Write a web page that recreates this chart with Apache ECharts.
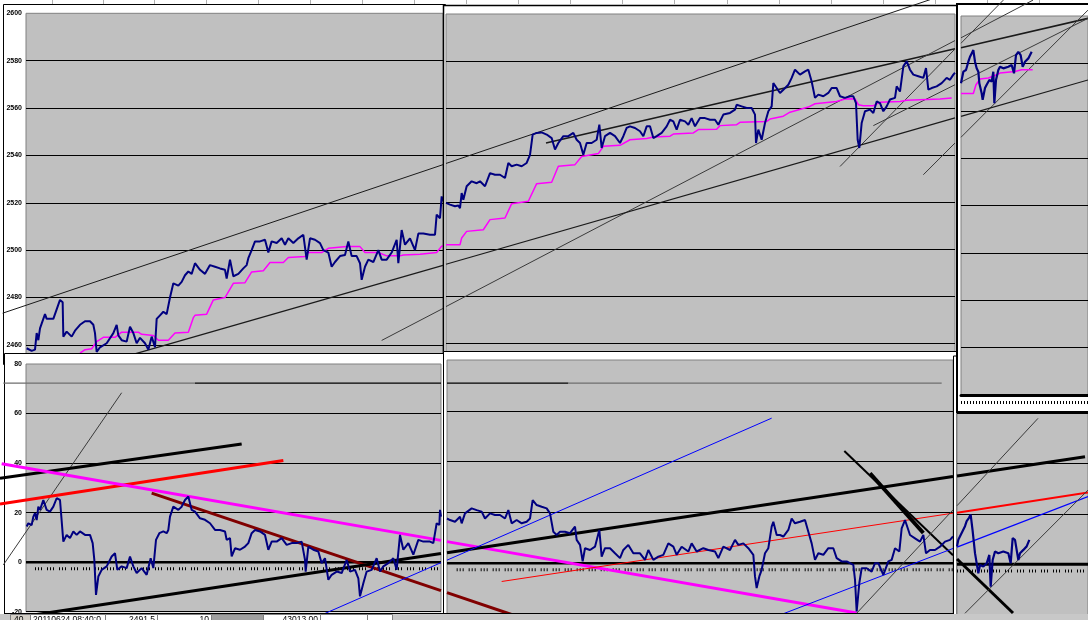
<!DOCTYPE html>
<html><head><meta charset="utf-8">
<script src="https://cdn.jsdelivr.net/npm/echarts@6/dist/echarts.min.js"></script>
<style>html,body{margin:0;padding:0;background:#fff;overflow:hidden}#c{width:1088px;height:620px;}</style>
</head><body><div id="c"></div>
<script>
// ---------------- DATA ----------------
const priceRange = [2440, 2600];
const oscRange = [-20, 80];
const tickStep = 20;

// top-left window: price and stepped average (x = bar index)
const tlPrice = [[80,2458.6],[85,2458],[95,2457.5],[105,2458],[110,2465],[115,2462],[120,2467],[125,2469],[135,2473],[140,2471],[145,2471],[160,2471],[170,2475],[175,2477],[180,2479],[185,2478.5],[188,2478],[190,2463.5],[200,2465.6],[215,2463.5],[225,2466],[240,2468.5],[255,2470],[270,2470],[280,2468.5],[285,2465],[290,2457],[300,2459],[320,2460.7],[340,2465],[350,2468.5],[355,2464],[365,2462],[380,2461.4],[390,2467.7],[400,2465],[410,2460.7],[420,2463],[435,2460.7],[445,2458],[455,2463.5],[465,2459],[470,2471],[480,2472.5],[490,2474],[500,2473],[505,2473],[510,2480],[520,2486],[535,2485],[545,2486.6],[555,2489.4],[565,2491],[575,2490],[585,2494.5],[600,2491.7],[615,2490],[630,2493.7],[645,2493],[660,2492.3],[675,2491.7],[680,2488],[690,2496],[700,2489],[715,2490],[730,2492.3],[740,2493.7],[745,2496.6],[755,2500],[765,2503.7],[780,2503.7],[795,2504.4],[805,2499],[815,2503.7],[830,2503],[845,2505],[855,2502.3],[865,2505],[880,2503],[895,2505],[910,2506.5],[920,2496],[930,2505],[945,2504.4],[960,2503],[970,2500],[985,2499],[995,2493],[1005,2495],[1020,2497.5],[1035,2498],[1045,2503.7],[1055,2497.5],[1070,2497.5],[1080,2494.5],[1085,2487.5],[1095,2493],[1105,2496],[1120,2495],[1135,2500],[1145,2496],[1160,2496],[1175,2499],[1190,2504.4],[1195,2494.5],[1205,2508.5],[1215,2502.3],[1230,2505],[1245,2500],[1255,2507],[1270,2507],[1290,2506.5],[1305,2506.5],[1310,2515],[1320,2513.5],[1325,2522.7],[1329,2520.6]];
const tlAvg = [[240,2456.5],[255,2458],[275,2458.4],[290,2461.4],[310,2463.2],[345,2463.2],[365,2465.4],[415,2465.4],[425,2464.5],[460,2464],[475,2462],[505,2462],[525,2465],[565,2465.4],[580,2471.5],[585,2472.5],[620,2473],[640,2479],[675,2480],[700,2486],[735,2486.3],[755,2490.8],[790,2491.3],[810,2494.8],[850,2494.8],[865,2496.9],[915,2497.3],[925,2499],[965,2499],[985,2500.8],[1040,2501.5],[1080,2501.5],[1095,2499],[1135,2499],[1160,2497.6],[1200,2497.6],[1210,2498],[1260,2498.3],[1310,2499],[1325,2501.7],[1329,2501.8]];

// top-middle window
const tmPrice = [[18,2519.6],[30,2518.9],[45,2518.2],[55,2518.5],[60,2517.4],[65,2523.8],[70,2521],[80,2526.7],[95,2528.8],[110,2528],[120,2528.8],[135,2526.7],[150,2532.3],[165,2531.6],[180,2531.6],[195,2530.2],[205,2536.6],[215,2535.2],[230,2535.9],[245,2535.2],[260,2536.6],[270,2540.1],[278,2548.7],[290,2549.4],[305,2549.6],[320,2548.7],[335,2547.2],[345,2542.3],[355,2545.1],[370,2548],[385,2548],[400,2549.4],[410,2546.5],[420,2545.1],[430,2540.1],[440,2545.1],[455,2545.1],[470,2546.5],[478,2552.9],[485,2543],[495,2548],[510,2549.4],[525,2548],[540,2545.1],[550,2548],[560,2551.5],[570,2552.2],[585,2551.5],[600,2550.1],[610,2548],[620,2552.2],[630,2552.2],[640,2547.2],[650,2548],[665,2549.4],[680,2552.2],[690,2555],[700,2554.3],[710,2550.8],[720,2555],[735,2554.3],[745,2552.9],[755,2555.7],[765,2552.2],[780,2555.7],[795,2555.7],[810,2555],[825,2555],[835,2552.9],[850,2557.2],[870,2557.9],[885,2559.3],[890,2561.4],[905,2560.7],[920,2560],[935,2560],[945,2557.2],[948,2545.1],[955,2550.8],[965,2546.5],[975,2553.6],[985,2558.6],[995,2560.7],[1000,2570.6],[1010,2568.5],[1020,2566.4],[1030,2567.8],[1045,2569.9],[1055,2572.8],[1065,2576.3],[1080,2574.2],[1095,2575.6],[1105,2576.3],[1115,2571.3],[1125,2564.3],[1135,2565.7],[1150,2565],[1165,2566.4],[1175,2568.5],[1190,2568.5],[1200,2565],[1215,2564.3],[1230,2565],[1240,2565],[1248,2562.1],[1253,2546.5],[1258,2543],[1265,2553.6],[1275,2558.6],[1290,2559.3],[1300,2557.9],[1310,2562.8],[1320,2562.1],[1330,2558.6],[1340,2560.7],[1350,2563.6],[1365,2564.3],[1370,2569.2],[1380,2567],[1390,2577.7],[1400,2579.9],[1410,2576.3],[1420,2574.2],[1435,2573.5],[1450,2572.8],[1458,2577],[1465,2567.8],[1475,2568.5],[1490,2569.2],[1505,2570.6],[1520,2572.8],[1530,2572],[1540,2574.2],[1545,2575]];
const tmAvg = [[18,2501.8],[60,2501.8],[65,2504.7],[80,2507.5],[130,2508.2],[150,2512.5],[195,2513.2],[215,2519.3],[265,2520.3],[290,2527.8],[335,2528.4],[355,2535.2],[405,2535.9],[425,2539.4],[475,2540.6],[490,2543.7],[540,2544.1],[570,2546.5],[620,2547],[640,2547.7],[690,2548],[700,2548.9],[760,2549.4],[775,2550.8],[830,2551],[840,2552.5],[890,2552.9],[900,2553.9],[980,2554.3],[990,2555.3],[1030,2556.5],[1050,2558.2],[1105,2560.4],[1125,2561.8],[1190,2562.8],[1215,2563.8],[1245,2563.9],[1255,2561.4],[1270,2561],[1300,2561],[1320,2562.4],[1380,2562.8],[1400,2563.3],[1500,2563.8],[1535,2564.3]];

// top-right window
const trPrice = [[33,2571.6],[40,2576.5],[48,2577.2],[55,2580.7],[60,2582.8],[65,2584.2],[70,2585.6],[75,2580.7],[80,2577.9],[85,2576.5],[88,2571.6],[95,2567.4],[98,2564.6],[105,2569.6],[110,2571],[118,2573],[125,2572.3],[130,2576.5],[133,2563.2],[138,2573],[145,2577.2],[150,2578.6],[160,2577.9],[175,2578.6],[185,2579.3],[192,2575.8],[198,2583.5],[205,2584.9],[212,2583.5],[218,2578.6],[225,2580.7],[235,2582.1],[245,2584.9]];
const trAvg = [[33,2567.3],[70,2567.3],[78,2571],[90,2573.4],[115,2573.8],[140,2575.2],[150,2575.9],[195,2576.6],[215,2577.3],[248,2577.3]];

// oscillator windows
const blOsc = [[80,14.4],[85,15.7],[95,15],[100,18.4],[105,19.8],[110,17],[115,22.4],[120,21.1],[130,25.1],[140,21.1],[150,20.4],[160,22.4],[170,25.8],[180,25.1],[185,24.5],[190,8.3],[200,11],[210,9.7],[220,12.4],[230,11],[240,12.4],[255,11],[270,11],[278,7.7],[283,0.9],[288,-13.2],[295,-5.8],[305,-3.1],[320,-1.7],[335,2.3],[345,3.6],[352,-3.1],[365,-1.7],[380,-2.4],[390,2.3],[400,-1.7],[410,-4.4],[425,-2.4],[440,-5.1],[452,1.6],[460,-2.4],[468,9],[478,11.7],[490,12.4],[500,11.7],[505,13],[510,18.4],[520,22.4],[535,21.1],[545,22.4],[555,25.1],[565,26.5],[575,21.1],[585,20.4],[600,17.7],[615,17.1],[630,15.7],[645,13],[660,13],[675,12.4],[680,9],[690,9.7],[695,2.3],[705,5.6],[720,5],[735,6.3],[745,7.7],[755,11.7],[765,13],[780,12.4],[795,11],[805,5],[815,8.3],[830,8.3],[845,9.7],[860,7],[875,7.7],[890,7.7],[905,8.3],[915,0.9],[917,-3.8],[925,6.3],[940,5],[955,4.3],[965,-0.4],[975,1.6],[985,-7.1],[995,-5.1],[1010,-3.8],[1025,-4.4],[1040,0.9],[1050,-3.8],[1065,-3.1],[1075,-6.5],[1080,-13.8],[1090,-8.5],[1100,-3.8],[1115,-3.1],[1130,1.6],[1140,-3.8],[1150,-1.7],[1165,-0.4],[1180,1.6],[1190,-3.1],[1200,11],[1210,5],[1225,7.7],[1240,3],[1255,9],[1270,8.3],[1290,8.3],[1300,7.7],[1310,15.7],[1318,15],[1320,21.1],[1323,18.4]];
const bmOsc = [[21,17.6],[30,17],[45,16.3],[60,18.3],[65,15.7],[75,19.6],[95,21.6],[110,20.9],[125,20.3],[135,17.6],[150,19.6],[165,19],[180,19],[195,17.6],[205,20.9],[215,15.7],[230,17],[245,15.7],[260,16.3],[270,17.6],[278,24.8],[290,22.9],[305,22.2],[320,21.6],[330,19.6],[340,12.4],[350,11.1],[360,12.4],[375,12.4],[390,11.8],[405,14.4],[410,9.2],[420,7.2],[428,0.7],[435,5.9],[450,5.2],[465,6.5],[478,13.1],[485,2.6],[495,5.9],[510,5.9],[525,3.9],[540,2],[550,5.2],[565,7.2],[580,3.9],[600,3.9],[615,1.3],[625,5.2],[640,1.3],[655,2.6],[670,3.3],[685,7.8],[700,6.5],[710,3.3],[725,6.5],[745,4.6],[755,7.8],[770,4.6],[790,5.9],[805,5.2],[825,4.6],[835,2],[850,6.5],[870,5.2],[885,9.2],[895,7.2],[910,7.8],[925,5.9],[940,3.3],[945,-5.2],[950,-9.8],[958,-5.2],[965,-2.6],[975,3.9],[985,5.9],[995,14.4],[1000,16.3],[1010,11.1],[1020,11.1],[1030,10.5],[1045,13.1],[1055,17.6],[1065,15.7],[1080,16.3],[1095,17],[1105,12.4],[1115,7.8],[1125,1.3],[1135,3.9],[1150,3.3],[1165,5.9],[1180,5.9],[1190,2],[1205,0.7],[1220,0.7],[1240,-0.7],[1245,-6.5],[1250,-19],[1258,-7.8],[1265,-2],[1280,-2],[1295,-3.3],[1305,0],[1315,0],[1330,-4.6],[1345,0.7],[1355,1.3],[1365,5.9],[1378,4.6],[1385,13.7],[1395,17],[1410,11.1],[1425,9.8],[1440,8.5],[1450,11.1],[1458,3.9],[1470,5.2],[1485,5.2],[1500,6.5],[1515,8.5],[1530,9.2],[1539,10.5]];
const brOsc = [[21,7.1],[25,9.7],[35,12.4],[45,15.1],[50,17.1],[57,18.4],[62,19.7],[68,13.1],[75,4.4],[80,4.4],[85,-3.6],[90,-0.3],[100,-0.9],[110,0.4],[118,3.7],[122,-8.9],[128,1.7],[135,5.1],[145,4.4],[160,5.1],[175,4.4],[182,0.4],[188,10.4],[195,9.7],[205,1.7],[210,4.4],[220,5.7],[230,7.1],[238,9.7]];

// trend lines (end points in each window's data space)
const tlLines = {A:[[8,2473.4],[1329,2536.1]], C:[[1145,2461.9],[1329,2475.4]], G:[[78,2443.0],[1329,2493.6]]};
const tmLines = {A:[[18,2536.4],[1470,2606.1]], B:[[318,2545.1],[1545,2585.2]], C:[[18,2475.5],[1545,2588.7]], D:[[1200,2535.1],[1545,2585.1]], E:[[1300,2552.5],[1545,2569.9]], F:[[1450,2531.6],[1545,2545.1]], G:[[18,2493.5],[1545,2555.8]]};
const trLines = {B:[[33,2586.6],[414,2599.0]], C:[[33,2590.8],[249,2606.7]], D:[[33,2588.5],[160,2606.7]], E:[[33,2572.1],[414,2599.0]], F:[[33,2548.8],[414,2602.5]], G:[[33,2557.6],[414,2573.0]]};
const blLines = {zero:[[78,0],[1323,0]], dots:[[105,-2.7],[1320,-2.7]], hGray:[[10,72.3],[585,72.3]], hBlack:[[585,72.3],[1323,72.3]], steep:[[10,-1.1],[365,68.4]], blackUp:[[0,33.9],[725,47.7]], redUp:[[0,23.5],[850,41.0]], magenta:[[5,39.7],[1323,8.8]], brown:[[455,27.9],[1323,-11.5]], blackLow:[[100,-21.3],[1323,3.5]], blue:[[965,-21.3],[1323,-0.2]]};
const bmLines = {zero:[[21,0],[1539,0]], dots:[[50,-2.6],[1539,-2.6]], hBlack:[[21,70.9],[385,70.9]], hGray:[[385,70.9],[1505,70.9]], magenta:[[21,8.5],[1250,-19.6]], brown:[[21,-11.6],[219,-20.4]], blackLow:[[21,4.1],[1539,34.1]], blue:[[21,1.2],[995,57.1]], red:[[185,-7.2],[1539,19.7]], blackDesc:[[1213,44.2],[1539,3.1]], blackDescThick:[[1290,35.4],[1450,11.9]], blue2:[[1020,-20.4],[1539,5.8]], gray1:[[1250,-19.7],[1539,21.0]]};
const brLines = {zero:[[21,0],[414,0]], dots:[[21,-2.7],[414,-2.7]], blackLow:[[21,35.0],[405,42.6]], red:[[21,20.4],[414,28.4]], blackDesc:[[21,2.1],[189,-19.3]], blue2:[[21,6.8],[414,26.8]], gray1:[[21,23.2],[264,57.8]], gray2:[[45,-19.4],[414,29.4]]};

const statusTexts = ['40', '20110624 08:40:0', '2491.5', '10', '43013.00'];

// ---------------- LAYOUT / STYLE ----------------
// 0 TL, 1 TM, 2 TR, 3 BL, 4 BM, 5 BR, 6 TL overlay (incl. left margin), 7 BL overlay
const panels = [
  {left:26,  top:13.3, width:417, height:379,   layer:1, x:[78,1329], y:priceRange, labels:true},
  {left:446, top:14,   width:509, height:376,   layer:2, x:[18,1545], y:priceRange, labels:false},
  {left:961, top:16,   width:127, height:379,   layer:6, x:[33,414],  y:priceRange, labels:false},
  {left:26,  top:364,  width:415, height:247.7, layer:3, x:[78,1323], y:oscRange,   labels:true},
  {left:447, top:360,  width:506, height:254,   layer:4, x:[21,1539], y:oscRange,   labels:false},
  {left:957, top:362.3,width:131, height:252.5, layer:5, x:[21,414],  y:oscRange,   labels:false},
  {left:0,   top:13.3, width:443, height:379,   layer:1, x:[0,1329],  y:priceRange, overlay:true},
  {left:0,   top:364,  width:441, height:247.7, layer:3, x:[0,1323],  y:oscRange,   overlay:true}
];

const grid = panels.map(p => ({
  left:p.left, top:p.top, width:p.width, height:p.height, containLabel:false, outerBoundsMode:'none',
  show:!p.overlay, backgroundColor:'#C0C0C0', borderColor:'#808080', borderWidth:1, z:p.layer*10+1
}));
const xAxis = panels.map((p,i) => ({
  gridIndex:i, type:'value', min:p.x[0], max:p.x[1], z:p.layer*10+2,
  show: i === 2,
  axisLine:{show:i===2, onZero:false, lineStyle:{color:'#000', width:3}},
  axisTick:{show:false}, axisLabel:{show:false}, splitLine:{show:false}
}));
xAxis.push({gridIndex:2, type:'value', min:33, max:414, interval:9, position:'bottom', offset:6, z:63,
  axisLine:{show:false}, axisTick:{show:true, length:3, lineStyle:{color:'#000', width:1}},
  axisLabel:{show:false}, splitLine:{show:false}});
const yAxis = panels.map((p,i) => ({
  gridIndex:i, type:'value', min:p.y[0], max:p.y[1], interval:tickStep, z:p.layer*10+2,
  show: !p.overlay,
  axisLine:{show:false}, axisTick:{show:false},
  axisLabel:{show:!!p.labels, fontSize:7, fontWeight:'bold', color:'#000', margin:4,
             fontFamily:'Liberation Sans', formatter: v => String(v)},
  splitLine:{show:!p.overlay, showMaxLine:false, lineStyle:{color:'#000', width:1}}
}));

function ln(gi, data, color, width, opt) {
  opt = opt || {};
  return {
    type:'line', xAxisIndex:gi, yAxisIndex:gi, data:data, symbol:'none', showSymbol:false,
    clip: opt.clip !== false, silent:true, animation:false,
    z: panels[gi].layer*10 + (opt.zo || 3),
    lineStyle:{color:color, width:width, type: opt.dash || 'solid', cap:'butt'}
  };
}
const NAVY = '#000080', MAG = '#FF00FF', TRD = '#1a1a1a', THIN = '#3a3a3a';
const DOTS = [1,2,1,2,1,5];
const NC = {clip:false};
const PW = 2;

const series = [
  // TL
  ln(6, tlLines.A, TRD, 1, NC), ln(0, tlLines.C, THIN, 1), ln(0, tlLines.G, TRD, 1.2),
  ln(0, tlAvg, MAG, 1.5, {zo:4}), ln(0, tlPrice, NAVY, PW, {zo:5}),
  // TM
  ln(1, tmLines.A, TRD, 1, NC), ln(1, tmLines.B, TRD, 1.6), ln(1, tmLines.C, THIN, 1),
  ln(1, tmLines.D, THIN, 1), ln(1, tmLines.E, THIN, 1), ln(1, tmLines.F, THIN, 1), ln(1, tmLines.G, TRD, 1.2),
  ln(1, tmAvg, MAG, 1.5, {zo:4}), ln(1, tmPrice, NAVY, PW, {zo:5}),
  // TR
  ln(2, trLines.B, TRD, 1.6, NC), ln(2, trLines.C, THIN, 1, NC), ln(2, trLines.D, THIN, 1, NC),
  ln(2, trLines.E, THIN, 1, NC), ln(2, trLines.F, THIN, 1, NC), ln(2, trLines.G, TRD, 1.2, NC),
  ln(2, trAvg, MAG, 1.5, {zo:4}), ln(2, trPrice, NAVY, 2.2, {zo:5}),
  // BL
  ln(3, blLines.zero, '#000', 2.5), ln(3, blLines.dots, '#000', 3, {dash:DOTS}),
  ln(7, blLines.hGray, '#6e6e6e', 1.2, NC), ln(3, blLines.hBlack, '#000', 1.2),
  ln(7, blLines.steep, THIN, 1, NC), ln(7, blLines.blackUp, '#000', 3, NC),
  ln(7, blLines.redUp, '#FF0000', 3, NC), ln(7, blLines.magenta, MAG, 3, NC),
  ln(3, blLines.brown, '#800000', 3), ln(7, blLines.blackLow, '#000', 3, NC),
  ln(7, blLines.blue, '#0000FF', 1, NC),
  ln(3, blOsc, NAVY, PW, {zo:5}),
  // BM
  ln(4, bmLines.zero, '#000', 2.5), ln(4, bmLines.dots, '#000', 3, {dash:DOTS}),
  ln(4, bmLines.hBlack, '#000', 1.2), ln(4, bmLines.hGray, '#6e6e6e', 1.2),
  ln(4, bmLines.magenta, MAG, 3), ln(4, bmLines.brown, '#800000', 3), ln(4, bmLines.blackLow, '#000', 3),
  ln(4, bmLines.blue, '#0000FF', 1), ln(4, bmLines.red, '#FF0000', 1),
  ln(4, bmLines.blackDesc, '#000', 2), ln(4, bmLines.blackDescThick, '#000', 4),
  ln(4, bmLines.blue2, '#0000FF', 1), ln(4, bmLines.gray1, THIN, 1),
  ln(4, bmOsc, NAVY, PW, {zo:5}),
  // BR
  ln(5, brLines.zero, '#000', 3), ln(5, brLines.dots, '#000', 3, {dash:DOTS}),
  ln(5, brLines.blackLow, '#000', 3), ln(5, brLines.red, '#FF0000', 2), ln(5, brLines.blackDesc, '#000', 3),
  ln(5, brLines.blue2, '#0000FF', 1.2), ln(5, brLines.gray1, THIN, 1), ln(5, brLines.gray2, THIN, 1),
  ln(5, brOsc, NAVY, 2.2, {zo:5})
];

// window frames and decorations
const g = [];
[52,103,154,206,258,310,362,414,466,518,570,622,674,727,779,831,883,935,987,1039].forEach(x => g.push({
  type:'line', shape:{x1:x+0.5, y1:0, x2:x+0.5, y2:4}, style:{stroke:'#b0b0b0', lineWidth:1}, z:1, silent:true}));
function frame(x, y, w, h, z, lw) {
  g.push({type:'rect', shape:{x:x, y:y, width:w, height:h}, style:{fill:'#fff', stroke:'#000', lineWidth:lw||1}, z:z, silent:true});
}
frame(3.5, 4.5, 442, 360, 10);
frame(443.5, 5.5, 514, 352, 20, 1.5);
frame(4.5, 353.5, 440, 270, 30);
frame(443.5, 351.5, 513, 272, 40);
frame(953.5, 356, 140, 268, 50);
g.push({type:'line', shape:{x1:956.5, y1:356, x2:956.5, y2:620}, style:{stroke:'#808080', lineWidth:1}, z:50, silent:true});
frame(957, 4, 135, 408, 60, 2);
// status bar
g.push({type:'rect', shape:{x:0, y:614, width:1088, height:6}, style:{fill:'#C8C8C8'}, z:100, silent:true});
g.push({type:'line', shape:{x1:5, y1:613.5, x2:953, y2:613.5}, style:{stroke:'#000', lineWidth:1}, z:100, silent:true});
const cells = [[10,30,'#D4D0C8'],[30,105,'#fff'],[105,157,'#fff'],[157,211,'#fff'],[211,263,'#A0A0A0'],[263,320,'#fff'],[320,367,'#fff'],[367,392,'#fff']];
cells.forEach(c => g.push({type:'rect', shape:{x:c[0]+0.5, y:614.5, width:c[1]-c[0], height:8}, style:{fill:c[2], stroke:'#808080', lineWidth:1}, z:101, silent:true}));
const txtPos = [[14,'left'],[33,'left'],[155,'right'],[209,'right'],[318,'right']];
statusTexts.forEach((t,i) => g.push({type:'text', x:txtPos[i][0], y:615.5, z:102, silent:true,
  style:{text:t, fill:'#000', font:'8.5px "Liberation Sans"', textAlign:txtPos[i][1], textVerticalAlign:'top'}}));

const chart = echarts.init(document.getElementById('c'), null, {renderer:'canvas'});
chart.setOption({
  animation:false,
  backgroundColor:'#fff',
  grid: grid, xAxis: xAxis, yAxis: yAxis, series: series,
  graphic: {elements: g}
});
</script></body></html>
